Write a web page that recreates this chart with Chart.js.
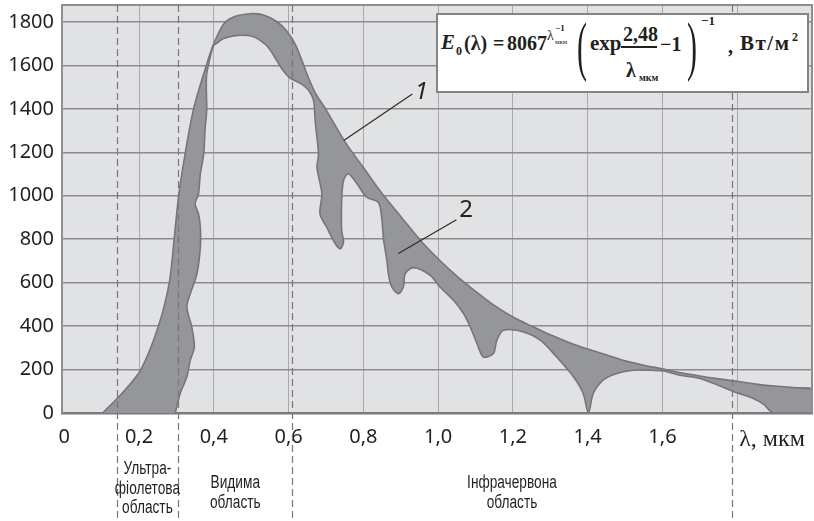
<!DOCTYPE html>
<html lang="uk">
<head>
<meta charset="utf-8">
<title>Спектр сонячного випромінювання</title>
<script src="https://cdn.jsdelivr.net/npm/chart.js@4.4.1/dist/chart.umd.min.js"></script>
<style>
  body { margin: 0; background: #fff; }
  #wrap { position: relative; width: 814px; height: 521px; }
  #formulaBox { position: absolute; left: 436px; top: 13px; width: 369px; height: 76px; background: #fff; border: 2px solid #848486; }
  .f { position: absolute; white-space: nowrap; line-height: 1; font-family: 'Liberation Serif', 'DejaVu Serif', serif; font-weight: bold; color: #231f20; }
  #bar { position: absolute; left: 621px; top: 46px; width: 36px; height: 1.5px; background: #231f20; }
</style>
</head>
<body>
<div id="wrap">
  <canvas id="chart" width="814" height="521"></canvas>
  <div id="formulaBox"></div>
  <div id="bar"></div>
</div>
<script>
// крива 1 — позаатмосферний спектр E0(λ)
const curve1X = [0.103, 0.154, 0.205, 0.252, 0.281, 0.294, 0.306, 0.324, 0.346, 0.38, 0.40, 0.426, 0.453, 0.497, 0.533, 0.569, 0.595, 0.618, 0.636, 0.653, 0.671, 0.702, 0.75, 0.80, 0.85, 0.90, 0.95, 1.00, 1.05, 1.10, 1.15, 1.20, 1.25, 1.30, 1.35, 1.40, 1.45, 1.50, 1.55, 1.60, 1.65, 1.70, 1.75, 1.80, 1.85, 1.90, 1.95, 2.00];
const curve1Y = [0, 90, 200, 400, 600, 800, 1000, 1200, 1400, 1600, 1700, 1790, 1823, 1838, 1832, 1801, 1758, 1697, 1621, 1544, 1475, 1391, 1250, 1130, 1010, 905, 800, 710, 630, 560, 495, 442, 400, 360, 325, 295, 268, 240, 220, 203, 185, 170, 157, 146, 133, 124, 117, 112];

// крива 2 — спектр біля поверхні Землі (контур по порядку)
const curve2X = [0.297, 0.310, 0.328, 0.337, 0.348, 0.341, 0.328, 0.337, 0.355, 0.364, 0.364, 0.359, 0.350, 0.359, 0.364, 0.373, 0.377, 0.381, 0.380, 0.381, 0.392, 0.399,
  0.408, 0.426, 0.453, 0.479, 0.502, 0.524, 0.546, 0.569, 0.586, 0.604, 0.618, 0.636, 0.653, 0.667,
  0.671, 0.680, 0.676, 0.689, 0.684, 0.702, 0.725, 0.738, 0.747, 0.742, 0.742, 0.747, 0.760, 0.783, 0.809, 0.840,
  0.849, 0.854, 0.863, 0.867, 0.876, 0.894, 0.907, 0.912, 0.934, 0.979, 1.005, 1.041, 1.068, 1.086, 1.104, 1.121, 1.148, 1.157, 1.175, 1.228, 1.273, 1.317, 1.362, 1.388, 1.402,
  1.415, 1.442, 1.478, 1.522, 1.567, 1.602, 1.647, 1.70, 1.754, 1.799, 1.843, 1.870, 1.897, 2.0];
const curve2Y = [0, 90, 167, 243, 304, 396, 488, 549, 641, 764, 855, 917, 963, 1009, 1101, 1192, 1315, 1391, 1498, 1560, 1650, 1690,
  1701, 1724, 1736, 1739, 1734, 1715, 1682, 1621, 1575, 1541, 1529, 1513, 1486, 1437,
  1345, 1192, 1131, 1009, 917, 855, 779, 756, 787, 840, 978, 1070, 1101, 1055, 993, 970,
  901, 800, 702, 641, 580, 549, 580, 641, 669, 634, 580, 519, 458, 396, 320, 258, 274, 335, 381, 373, 335, 258, 167, 90, 0,
  90, 152, 182, 197, 197, 193, 174, 159, 124, 93, 67, 41, 0, 0];

const xTicks = [0, 0.2, 0.4, 0.6, 0.8, 1.0, 1.2, 1.4, 1.6, 1.8, 2.0];
const xTickLabels = ['0', '0,2', '0,4', '0,6', '0,8', '1,0', '1,2', '1,4', '1,6', '', ''];
const yTicks = [0, 200, 400, 600, 800, 1000, 1200, 1400, 1600, 1800];

// межі областей спектра
const dividers = [0.14, 0.305, 0.61, 1.785];
const regionLabels = [['Ультра-', 'фіолетова', 'область'], ['Видима', 'область'], ['Інфрачервона', 'область']];

// підписи кривих та виносні лінії
const curveLabels = ['1', '2'];
const labelPos = [[0.955, 1475], [1.075, 935]];
const leaderFrom = [[0.7475, 1254], [0.8935, 734]];
const leaderTo = [[0.931, 1468], [1.049, 890]];

const ink = '#231f20';
const toPts = (xs, ys) => xs.map((x, i) => ({ x: x, y: ys[i] }));
const c1 = toPts(curve1X, curve1Y);
const c2 = toPts(curve2X, curve2Y);
const band = c1.concat(c2.slice().reverse());

const overlay = {
  id: 'overlay',
  beforeDraw(chart) {
    const { ctx, chartArea: a } = chart;
    ctx.save();
    ctx.fillStyle = '#e1e2e4';
    ctx.fillRect(a.left, a.top, a.right - a.left, a.bottom - a.top);
    ctx.restore();
  },
  afterDatasetsDraw(chart) {
    const { ctx } = chart;
    const xs = chart.scales.x, ys = chart.scales.y;
    ctx.save();
    ctx.strokeStyle = '#2b2b2b';
    ctx.lineWidth = 1.2;
    leaderFrom.forEach((p, i) => {
      ctx.beginPath();
      ctx.moveTo(xs.getPixelForValue(p[0]), ys.getPixelForValue(p[1]));
      ctx.lineTo(xs.getPixelForValue(leaderTo[i][0]), ys.getPixelForValue(leaderTo[i][1]));
      ctx.stroke();
    });
    ctx.fillStyle = ink;
    ctx.textAlign = 'center';
    ctx.textBaseline = 'middle';
    curveLabels.forEach((t, i) => {
      ctx.font = (i === 0 ? 'italic ' : '') + '24px "Noto Sans"';
      ctx.fillText(t, xs.getPixelForValue(labelPos[i][0]), ys.getPixelForValue(labelPos[i][1]));
    });
    ctx.restore();
  },
  afterDraw(chart) {
    const { ctx, chartArea: a } = chart;
    const xs = chart.scales.x;
    ctx.save();
    // рамка зверху і справа
    ctx.strokeStyle = '#8e8e90';
    ctx.lineWidth = 2;
    ctx.beginPath();
    ctx.moveTo(a.left, a.top);
    ctx.lineTo(a.right, a.top);
    ctx.lineTo(a.right, a.bottom);
    ctx.stroke();
    // штрихові межі
    ctx.strokeStyle = '#77777a';
    ctx.lineWidth = 1.2;
    ctx.setLineDash([7, 4]);
    dividers.forEach(d => {
      const px = Math.round(xs.getPixelForValue(d)) + 0.5;
      ctx.beginPath();
      ctx.moveTo(px, a.top);
      ctx.lineTo(px, chart.height);
      ctx.stroke();
    });
    ctx.setLineDash([]);
    // назви областей
    ctx.fillStyle = ink;
    ctx.textAlign = 'center';
    ctx.textBaseline = 'alphabetic';
    ctx.font = '18px "Liberation Sans"';
    regionLabels.forEach((lines, i) => {
      const cx = xs.getPixelForValue((dividers[i] + dividers[i + 1]) / 2);
      const top = i === 0 ? 474 : 488;
      lines.forEach((t, j) => {
        ctx.save();
        ctx.translate(cx, top + j * 19.5);
        ctx.scale(0.76, 1);
        ctx.fillText(t, 0, 0);
        ctx.restore();
      });
    });
    // підпис осі
    ctx.textAlign = 'left';
    ctx.font = '24px "Liberation Serif"';
    ctx.fillText('λ, мкм', xs.getPixelForValue(1.8) + 2, 446);
    ctx.restore();
  }
};

new Chart(document.getElementById('chart'), {
  type: 'line',
  data: {
    datasets: [
      { label: '1', data: c1, borderColor: '#767678', borderWidth: 1.6, fill: false, tension: 0.3, pointRadius: 0 },
      { label: '2', data: c2, borderColor: '#767678', borderWidth: 1.6, fill: false, tension: 0.3, pointRadius: 0 },
      { label: 'band', data: band, borderWidth: 0, borderColor: 'rgba(0,0,0,0)', backgroundColor: '#959699', fill: 'shape', tension: 0.3, pointRadius: 0 }
    ]
  },
  options: {
    responsive: false,
    animation: false,
    layout: { padding: { top: 5, right: 2, left: 0, bottom: 0 } },
    plugins: { legend: { display: false }, tooltip: { enabled: false } },
    scales: {
      x: {
        type: 'linear',
        min: -0.006,
        max: 2.0,
        afterBuildTicks: s => { s.ticks = xTicks.map(v => ({ value: v })); },
        afterFit: s => { s.height = 108; s.paddingLeft = 0; s.paddingRight = 0; },
        ticks: {
          autoSkip: false,
          maxRotation: 0,
          padding: 12,
          color: ink,
          font: { family: 'Noto Sans', size: 20 },
          callback: (v, i) => xTickLabels[i]
        },
        grid: {
          drawTicks: false,
          lineWidth: 1,
          color: c => (c.tick && c.tick.value > 0 && c.tick.value < 2) ? '#a9a9ab' : 'rgba(0,0,0,0)'
        },
        border: { color: '#7b7b7d', width: 2.5 }
      },
      y: {
        type: 'linear',
        min: 0,
        max: 1878,
        afterBuildTicks: s => { s.ticks = yTicks.map(v => ({ value: v })); },
        afterFit: s => { s.width = 62; s.paddingTop = 0; s.paddingBottom = 0; },
        ticks: {
          padding: 8,
          color: ink,
          font: { family: 'Noto Sans', size: 20 },
          callback: v => String(v)
        },
        grid: {
          drawTicks: false,
          lineWidth: 1.5,
          color: c => (c.tick && c.tick.value > 0) ? '#8b8b8d' : 'rgba(0,0,0,0)'
        },
        border: { color: '#8e8e90', width: 2 }
      }
    }
  },
  plugins: [overlay]
});

// формула: [текст, ліво, базова лінія, розмір, курсив, звичайна вага, інтервал]
const formulaParts = [
  ['E', 441, 50, 21, true],
  ['0', 456, 55, 12],
  ['(λ)', 464, 50, 20],
  ['=', 493, 50, 20],
  ['8067', 507, 50, 20],
  ['λ', 547, 41, 14, false, true],
  ['−1', 555, 32, 9],
  ['мкм', 555, 45, 7, false, true],
  ['exp', 590, 51, 21],
  ['2,48', 623, 41, 20],
  ['λ', 626, 77, 20],
  ['мкм', 639, 81, 10],
  ['−1', 660, 51, 20],
  ['−1', 701, 25, 13],
  [',', 728, 53, 20],
  ['Вт/м', 740, 51, 21, false, false, 1.5],
  ['2', 792, 41, 12]
];
const wrap = document.getElementById('wrap');
formulaParts.forEach(p => {
  const s = document.createElement('span');
  s.className = 'f';
  s.textContent = p[0];
  s.style.left = p[1] + 'px';
  s.style.top = (p[2] - 0.8375 * p[3]) + 'px';
  s.style.fontSize = p[3] + 'px';
  if (p[4]) s.style.fontStyle = 'italic';
  if (p[5]) s.style.fontWeight = 'normal';
  if (p[6]) s.style.letterSpacing = p[6] + 'px';
  wrap.appendChild(s);
});
// великі дужки
[['(', 577], [')', 687]].forEach(p => {
  const s = document.createElement('span');
  s.className = 'f';
  s.textContent = p[0];
  s.style.fontWeight = 'normal';
  s.style.fontSize = '30px';
  s.style.left = p[1] + 'px';
  s.style.top = (53 - 18) + 'px';
  s.style.transformOrigin = '50% 18px';
  s.style.transform = 'scaleY(2.2)';
  wrap.appendChild(s);
});
</script>
</body>
</html>
